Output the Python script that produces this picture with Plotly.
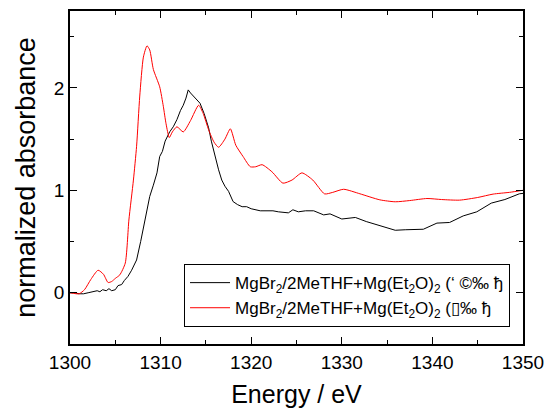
import plotly.graph_objects as go

black_E = [1300, 1300.5, 1301, 1301.5, 1302, 1302.5, 1303, 1303.3, 1303.6, 1304, 1304.3, 1304.6, 1305,
           1305.3, 1305.7, 1306, 1306.4, 1306.8, 1307.35, 1307.8, 1308.3, 1308.8, 1309.2, 1309.6, 1309.9,
           1310.2, 1310.5, 1311, 1311.4, 1311.8, 1312.2, 1312.5, 1312.8, 1313.05, 1313.3, 1313.6, 1314,
           1314.35, 1314.8, 1315.3, 1315.6, 1316, 1316.4, 1316.75, 1317.1, 1317.5, 1318, 1318.5, 1319,
           1319.5, 1320, 1321, 1322.4, 1323, 1324.1, 1324.6, 1325.2, 1326, 1326.9, 1328, 1328.7, 1330,
           1331.5, 1332.7, 1334.2, 1335.9, 1337, 1339, 1340.5, 1341.9, 1343.4, 1344.9, 1346.5, 1348,
           1349.6, 1350]
black_A = [0.0, 0.0, -0.01, -0.01, 0.0, 0.01, 0.02, 0.01, 0.03, 0.02, 0.04, 0.02, 0.03,
           0.07, 0.08, 0.12, 0.16, 0.22, 0.32, 0.5, 0.71, 0.94, 1.05, 1.17, 1.33,
           1.38, 1.48, 1.57, 1.62, 1.69, 1.78, 1.83, 1.90, 1.98, 1.95, 1.92, 1.89,
           1.85, 1.75, 1.61, 1.48, 1.33, 1.2, 1.10, 1.04, 0.99, 0.89, 0.86, 0.84,
           0.84, 0.82, 0.80, 0.80, 0.79, 0.78, 0.81, 0.79, 0.80, 0.80, 0.76, 0.77, 0.72,
           0.735, 0.695, 0.654, 0.61, 0.615, 0.62, 0.68, 0.686, 0.75, 0.79, 0.875, 0.91,
           0.966, 0.97]

red_E = [1300, 1301, 1301.6, 1302.3, 1303.1, 1303.7, 1304.2, 1304.6, 1305, 1305.5, 1306.1, 1306.5,
         1307, 1307.35, 1307.7, 1308.1, 1308.5, 1308.8, 1309.2, 1309.9, 1310.3, 1310.6, 1310.96,
         1311.3, 1311.8, 1312.5, 1313.3, 1314.2, 1314.7, 1315.3, 1315.9, 1316.4, 1317.1, 1317.7,
         1318.3, 1319.1, 1319.9, 1320.5, 1321.2, 1322.3, 1323.5, 1324.5, 1325.6, 1326.8, 1328.1,
         1329, 1330.2, 1332, 1334.2, 1335.9, 1337.5, 1339.4, 1341, 1343, 1345, 1346.7, 1348.5, 1350]
red_A = [0.0, -0.01, 0.03, 0.13, 0.22, 0.18, 0.10, 0.11, 0.14, 0.175, 0.29, 0.71,
         1.1, 1.43, 1.92, 2.3, 2.41, 2.37, 2.18, 2.01, 1.82, 1.65, 1.515,
         1.57, 1.62, 1.57, 1.68, 1.83, 1.75, 1.59, 1.47, 1.42, 1.5, 1.60,
         1.44, 1.33, 1.23, 1.23, 1.25, 1.18, 1.07, 1.10, 1.17, 1.10, 0.965,
         0.98, 1.01, 0.966, 0.907, 0.888, 0.90, 0.92, 0.91, 0.904, 0.93, 0.963, 0.98, 1.0]

name_black = "MgBr<sub>2</sub>/2MeTHF+Mg(Et<sub>2</sub>O)<sub>2</sub> (‘ ©‰ ђ"
name_red = "MgBr<sub>2</sub>/2MeTHF+Mg(Et<sub>2</sub>O)<sub>2</sub> (▯‰ ђ"

x_range = [1300, 1350]
y_range = [-0.5, 2.75]
x_ticks = [1300, 1310, 1320, 1330, 1340, 1350]
y_ticks = [0, 1, 2]

fig = go.Figure()
fig.add_trace(go.Scatter(x=black_E, y=black_A, mode="lines", name=name_black,
                         line=dict(color="black", width=1)))
fig.add_trace(go.Scatter(x=red_E, y=red_A, mode="lines", name=name_red,
                         line=dict(color="#ff0000", width=1, shape="spline", smoothing=0.6)))

font = "Liberation Sans, Arial, sans-serif"
axis_common = dict(showgrid=False, zeroline=False, showline=True, linecolor="black", linewidth=1.5,
                   mirror="allticks", ticks="inside", ticklen=7, tickwidth=1, tickcolor="black",
                   automargin=False,
                   tickfont=dict(family=font, size=19, color="black"))
fig.update_xaxes(range=x_range, tickvals=x_ticks,
                 minor=dict(dtick=5, ticks="inside", ticklen=4, tickcolor="black"),
                 title=dict(text="Energy / eV", font=dict(family=font, size=25, color="black"), standoff=14),
                 **axis_common)
fig.update_yaxes(range=y_range, tickvals=y_ticks,
                 minor=dict(tickvals=[0.5, 1.5, 2.5], ticks="inside", ticklen=4, tickcolor="black"),
                 title=dict(text="normalized absorbance", font=dict(family=font, size=27, color="black"), standoff=10),
                 **axis_common)
fig.update_layout(width=546, height=410, margin=dict(l=70, r=23, t=11, b=66),
                  plot_bgcolor="white", paper_bgcolor="white",
                  legend=dict(x=0.2517, y=0.24, xanchor="left", yanchor="top",
                              bordercolor="black", borderwidth=1, bgcolor="white",
                              font=dict(family=font, size=17, color="black"),
                              tracegroupgap=0, itemwidth=40))
fig.write_html("out.html", config={"displayModeBar": False},
               post_script="document.body.style.margin='0px';document.body.style.overflow='hidden';")
